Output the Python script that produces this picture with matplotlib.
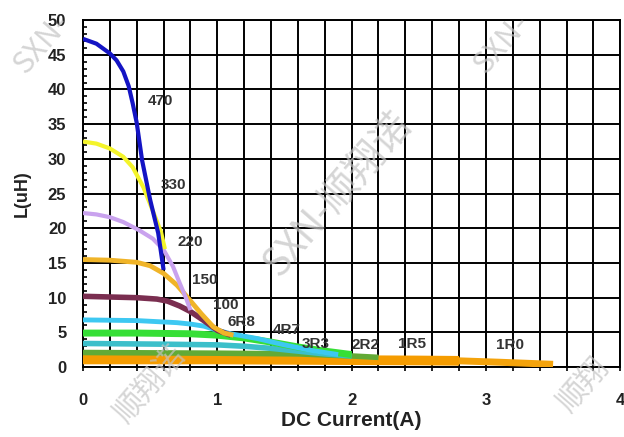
"""Inductance vs DC current curves for a power inductor series."""

import matplotlib.pyplot as plt
from matplotlib.ticker import MultipleLocator

# one curve per inductance code: current (A) and inductance (uH)
x_470 = [0, 0.1, 0.2, 0.25, 0.3, 0.34, 0.37, 0.4, 0.44, 0.5, 0.56, 0.6]
y_470 = [47.3, 46.6, 45.2, 44.2, 42.6, 40.5, 38.0, 35.2, 29.8, 24.1, 19.3, 14.0]

x_330 = [0, 0.1, 0.2, 0.3, 0.37, 0.45, 0.52, 0.58, 0.61]
y_330 = [32.5, 32.2, 31.5, 30.3, 28.8, 25.9, 22.5, 19.5, 17.0]

x_220 = [0, 0.1, 0.2, 0.3, 0.42, 0.52, 0.6, 0.67, 0.72, 0.77, 0.8]
y_220 = [22.2, 22.0, 21.6, 20.9, 19.7, 18.5, 16.9, 14.5, 12.1, 9.8, 8.2]

x_150 = [0, 0.2, 0.4, 0.5, 0.6, 0.7, 0.78, 0.88, 0.97, 1.05, 1.12]
y_150 = [15.5, 15.4, 15.1, 14.6, 13.5, 11.8, 10.0, 7.7, 5.8, 4.9, 4.6]

x_100 = [0, 0.4, 0.55, 0.63, 0.72, 0.8, 0.9, 1.0, 1.1]
y_100 = [10.2, 10.0, 9.8, 9.5, 8.8, 8.0, 6.7, 5.3, 4.6]

x_6r8 = [0, 0.4, 0.7, 0.8, 0.9, 1.0, 1.1, 1.3, 1.5, 1.7, 1.9]
y_6r8 = [6.8, 6.7, 6.4, 6.2, 5.9, 5.3, 4.8, 4.1, 3.2, 2.4, 1.8]

x_4r7 = [0, 0.4, 0.8, 1.0, 1.2, 1.4, 1.6, 1.8, 2.0]
y_4r7 = [4.9, 4.9, 4.8, 4.6, 4.2, 3.6, 2.9, 2.3, 1.8]

x_3r3 = [0, 0.6, 1.0, 1.2, 1.4, 1.6, 1.8, 2.0]
y_3r3 = [3.4, 3.3, 3.2, 3.0, 2.7, 2.3, 1.9, 1.6]

x_2r2 = [0, 1.0, 1.6, 2.0, 2.2]
y_2r2 = [2.1, 2.0, 1.9, 1.6, 1.4]

x_1r5 = [0, 1.0, 2.0, 2.5, 2.8]
y_1r5 = [1.1, 1.1, 1.0, 0.95, 0.9]

x_1r0 = [0, 1.0, 2.0, 2.5, 2.8, 3.1, 3.5]
y_1r0 = [1.1, 1.1, 1.1, 1.05, 0.9, 0.7, 0.4]

labels = ["470", "330", "220", "150", "100", "6R8", "4R7", "3R3", "2R2", "1R5", "1R0"]
label_x = [0.58, 0.67, 0.80, 0.91, 1.06, 1.18, 1.52, 1.73, 2.10, 2.45, 3.18]
label_y = [38.4, 26.3, 18.0, 12.5, 9.0, 6.5, 5.3, 3.3, 3.2, 3.3, 3.2]

curves = [
    (x_1r0, y_1r0, "#f4a30c", 5),
    (x_1r5, y_1r5, "#f59c00", 7),
    (x_2r2, y_2r2, "#62aa36", 4),
    (x_3r3, y_3r3, "#3cbfca", 4),
    (x_4r7, y_4r7, "#36df36", 5),
    (x_6r8, y_6r8, "#3dc8f2", 3.5),
    (x_100, y_100, "#7a2e50", 4),
    (x_150, y_150, "#f0b428", 3.5),
    (x_220, y_220, "#c9a2ee", 3),
    (x_330, y_330, "#f4f42a", 3),
    (x_470, y_470, "#1414c4", 3),
]

fig = plt.figure(figsize=(6.24, 4.37), dpi=100)
ax = fig.add_axes([0.133, 0.160, 0.861, 0.794])

for xs, ys, color, lw in curves:
    ax.plot(xs, ys, color=color, linewidth=lw, solid_capstyle="butt",
            solid_joinstyle="round", zorder=3)

for text, tx, ty in zip(labels, label_x, label_y):
    ax.text(tx, ty, text, ha="center", va="center", fontsize=11, fontweight="bold",
            color="#333333", family="Liberation Sans", zorder=4)

ax.set_xlim(0, 4)
ax.set_ylim(0, 50)
ax.xaxis.set_major_locator(MultipleLocator(1))
ax.xaxis.set_minor_locator(MultipleLocator(0.2))
ax.yaxis.set_major_locator(MultipleLocator(5))
ax.yaxis.set_minor_locator(MultipleLocator(1))

ax.grid(True, which="major", axis="y", color="black", linewidth=1.4)
ax.grid(True, which="both", axis="x", color="black", linewidth=1.4)
for side in ax.spines.values():
    side.set_linewidth(1.4)

ax.tick_params(axis="x", which="both", direction="out", length=3, width=1.2, pad=16)
ax.tick_params(axis="y", which="major", direction="in", length=0, pad=12)
ax.tick_params(axis="y", which="minor", direction="in", length=3, width=1.2)
for lab in ax.get_xticklabels() + ax.get_yticklabels():
    lab.set_fontfamily("Liberation Sans")
    lab.set_fontweight("bold")
    lab.set_fontsize(12)
    lab.set_color("#222222")

ax.set_xlabel("DC Current(A)", fontsize=15, fontweight="bold", family="Liberation Sans",
              color="#222222", labelpad=2)
ax.set_ylabel("L(uH)", fontsize=13, fontweight="bold", family="Liberation Sans",
              color="#222222", labelpad=12)

# faint diagonal watermark pieces, as they show in the datasheet image
marks = ["SXN-", "SXN-", "SXN-顺翔诺", "顺翔诺", "顺翔"]
mark_px = [(42, 44), (502, 44), (338, 195), (150, 384), (584, 386)]
mark_size = [22, 22, 28, 22, 22]
for mark, (cx, cy), size in zip(marks, mark_px, mark_size):
    fig.text(cx / 624, 1 - cy / 437, mark, rotation=49, ha="center", va="center",
             fontsize=size, color="#c4c4c4", alpha=0.7,
             family=["Noto Sans CJK SC", "DejaVu Sans"], zorder=10)

fig.savefig("out.png", dpi=100)
